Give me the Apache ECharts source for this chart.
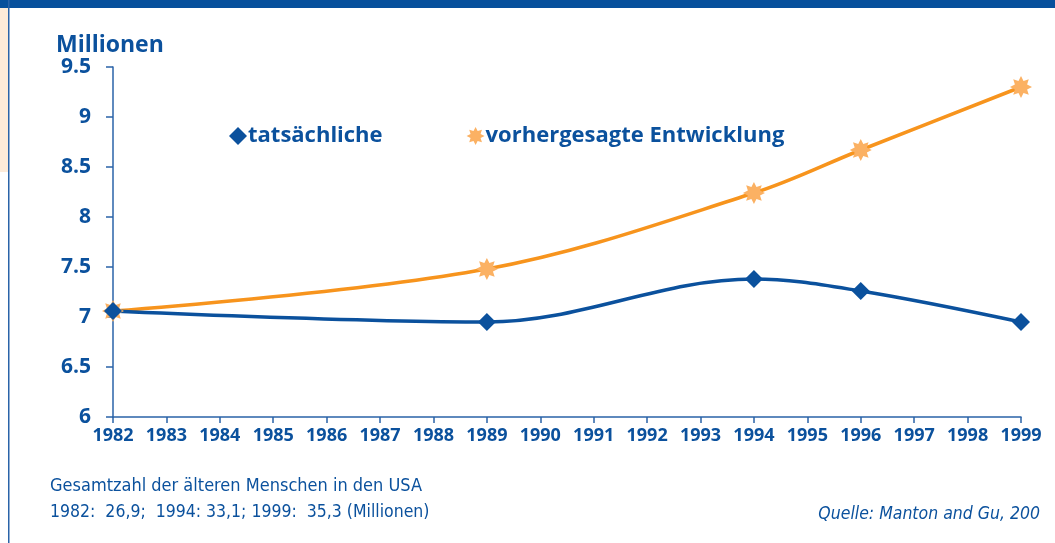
<!DOCTYPE html>
<html>
<head>
<meta charset="utf-8">
<script src="https://cdn.jsdelivr.net/npm/echarts@6/dist/echarts.min.js"></script>
<style>
  html, body { margin: 0; padding: 0; background: #fff; }
  #main { width: 1055px; height: 543px; }
</style>
</head>
<body>
<div id="main"></div>
<script>
// Jahre mit Messpunkten
const years = [1982, 1989, 1994, 1996, 1999];
// tatsächliche Entwicklung (Millionen)
const actual = [7.06, 6.95, 7.38, 7.26, 6.95];
// vorhergesagte Entwicklung (Millionen)
const forecast = [7.06, 7.48, 8.24, 8.67, 9.30];
const seriesNames = ['tatsächliche', 'vorhergesagte Entwicklung'];

const blue = '#0b519d';
const orange = '#f7941d';
const starFill = '#fbb163';

// 8-zackiger Stern als Symbol
const starPath = (() => {
  let d = '';
  for (let i = 0; i < 16; i++) {
    const r = i % 2 === 0 ? 10 : 6;
    const a = Math.PI * i / 8 - Math.PI / 2;
    d += (i === 0 ? 'M' : 'L') + (r * Math.cos(a)).toFixed(2) + ',' + (r * Math.sin(a)).toFixed(2);
  }
  return 'path://' + d + 'Z';
})();

const chart = echarts.init(document.getElementById('main'));
const option = {
  animation: false,
  grid: { left: 113, right: 34, top: 67, bottom: 126 },
  legend: {
    left: 224,
    top: 120,
    itemWidth: 18,
    itemHeight: 18,
    itemGap: 84,
    textStyle: { color: blue, fontSize: 22, fontWeight: 'bold', fontFamily: 'Open Sans', padding: [0, 0, 0, -4] },
    data: [
      { name: seriesNames[0], icon: 'diamond', itemStyle: { color: blue } },
      { name: seriesNames[1], icon: starPath, itemStyle: { color: starFill } }
    ]
  },
  xAxis: {
    type: 'value',
    min: 1982,
    max: 1999,
    interval: 1,
    splitLine: { show: false },
    axisLine: { lineStyle: { color: '#2a63a8', width: 1.5 } },
    axisTick: { show: true, length: 6, lineStyle: { color: '#2a63a8', width: 1.5 } },
    axisLabel: { color: blue, fontSize: 18, fontWeight: 'bold', fontFamily: 'Open Sans', margin: 10, formatter: v => String(v) }
  },
  yAxis: {
    type: 'value',
    min: 6,
    max: 9.5,
    interval: 0.5,
    splitLine: { show: false },
    axisLine: { show: true, lineStyle: { color: '#2a63a8', width: 1.5 } },
    axisTick: { show: true, length: 7, lineStyle: { color: '#2a63a8', width: 1.5 } },
    axisLabel: { color: blue, fontSize: 21, fontWeight: 'bold', fontFamily: 'Open Sans', margin: 22 }
  },
  series: [
    {
      name: seriesNames[1],
      type: 'line',
      smooth: 0.35,
      data: years.map((y, i) => [y, forecast[i]]),
      symbol: starPath,
      symbolSize: 22,
      lineStyle: { color: orange, width: 3.5 },
      itemStyle: { color: starFill }
    },
    {
      name: seriesNames[0],
      type: 'line',
      smooth: 0.35,
      data: years.map((y, i) => [y, actual[i]]),
      symbol: 'diamond',
      symbolSize: 18,
      lineStyle: { color: blue, width: 3.5 },
      itemStyle: { color: blue }
    }
  ],
  graphic: [
    { type: 'rect', left: 0, top: 0, shape: { width: 1055, height: 8 }, style: { fill: '#07509c' } },
    { type: 'rect', left: 0, top: 8, shape: { width: 8, height: 164 }, style: { fill: '#fdebd9' } },
    { type: 'rect', left: 8, top: 0, shape: { width: 1.5, height: 543 }, style: { fill: '#2a63a8' } },
    {
      type: 'text', left: 56, top: 34,
      style: { text: 'Millionen', fill: blue, font: 'bold 23px "Open Sans"' }
    },
    {
      type: 'text', left: 50, top: 477,
      style: { text: 'Gesamtzahl der älteren Menschen in den USA', fill: blue, font: '18px "DejaVu Sans Condensed"' }
    },
    {
      type: 'text', left: 50, top: 503,
      style: { text: '1982:  26,9;  1994: 33,1; 1999:  35,3 (Millionen)', fill: blue, font: '17.5px "DejaVu Sans Condensed"' }
    },
    {
      type: 'text', right: 15, top: 505,
      style: { text: 'Quelle: Manton and Gu, 200', fill: blue, font: 'italic 17.5px "DejaVu Sans Condensed"' }
    }
  ]
};
chart.setOption(option);
</script>
</body>
</html>
